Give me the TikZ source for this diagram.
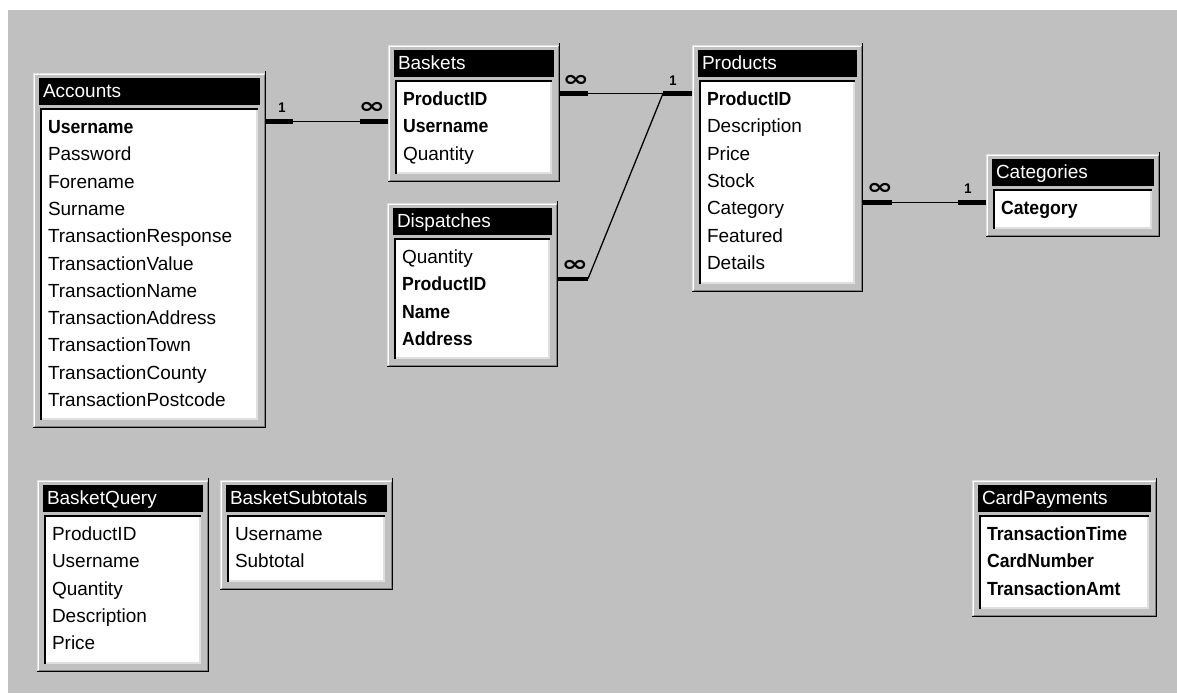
\documentclass[tikz,border=0pt]{standalone}
\usepackage{fontspec}
\setmainfont{Liberation Sans}[BoldFeatures={FakeStretch=0.93}]
\newfontfamily\markfont{DejaVu Sans}
\usepackage{tikz}
\usetikzlibrary{positioning}
\usepackage{amsmath}
\usepackage{xcolor}
\definecolor{winface}{HTML}{C0C0C0}
\definecolor{winlight}{HTML}{DFDFDF}
\definecolor{winshadow}{HTML}{808080}
\newcommand{\many}{\scalebox{1.45}[1]{∞}}
\tikzset{
	every node/.style={inner sep=0pt, outer sep=0pt},
	tableframe/.style={fill=winface, draw=none, anchor=north west},
	tabletitle/.style={font=\fontsize{19}{19}\selectfont, text=white, anchor=base west},
	field/.style={font=\fontsize{19}{19}\selectfont, text height=24pt, text depth=0pt, anchor=base west},
	pkfield/.style={field, font=\fontsize{19}{19}\selectfont\bfseries},
	nextrow/.style={below=3.3pt of #1.south west, anchor=north west},
	link/.style={line width=1.3pt},
	linkend/.style={line width=4.5pt},
	onemark/.style={font=\fontsize{14}{14}\selectfont\bfseries, anchor=base},
	manymark/.style={font=\markfont\fontsize{22}{22}\selectfont\bfseries, anchor=base}
}
% frame, title bar and list box of one table: name, left, top, right, bottom, title
\newcommand{\erdtable}[6]{%
	\node[tableframe, minimum width={(#4-#2)*1pt}, minimum height={(#5-#3)*1pt}] (#1) at (#2,#3) {};
	\draw[winlight, line width=1pt] ({#2+0.5},{#5-1}) -- ({#2+0.5},{#3+0.5}) -- ({#4-1},{#3+0.5});
	\draw[white, line width=1pt] ({#2+1.5},{#5-2}) -- ({#2+1.5},{#3+1.5}) -- ({#4-2},{#3+1.5});
	\draw[black, line width=1.5pt] ({#2},{#5-0.75}) -- ({#4-0.75},{#5-0.75}) -- ({#4-0.75},{#3-2});
	\draw[winshadow, line width=1pt] ({#2+1.5},{#5-2}) -- ({#4-2},{#5-2}) -- ({#4-2},{#3+1.5});
	\fill[black] ({#2+6},{#3+5}) rectangle ({#4-6},{#3+32});
	\node[tabletitle] (#1-title) at ({#2+10},{#3+24.5}) {#6};
	\fill[white] ({#2+7},{#3+35}) rectangle ({#4-8},{#5-8});
	\draw[winlight, line width=2pt] ({#2+7},{#5-9}) -- ({#4-9},{#5-9}) -- ({#4-9},{#3+35});
	\draw[black, line width=2pt] ({#2+8},{#5-8}) -- ({#2+8},{#3+36}) -- ({#4-8},{#3+36});
}

\begin{document}
\begin{tikzpicture}[x=1pt, y=-1pt]
	% Window
	\useasboundingbox (0,0) rectangle (1177,693);
	\fill[white] (0,0) rectangle (1177,693);
	\fill[winface] (8,10) rectangle (1177,693);

	% Accounts
	\erdtable{accounts}{33}{73}{266}{428}{Accounts}
	\node[pkfield] (accUser) at (48,133.5) {Username};
	\node[field, nextrow=accUser] (accPass) {Password};
	\node[field, nextrow=accPass] (accFore) {Forename};
	\node[field, nextrow=accFore] (accSur) {Surname};
	\node[field, nextrow=accSur] (accResp) {TransactionResponse};
	\node[field, nextrow=accResp] (accValue) {TransactionValue};
	\node[field, nextrow=accValue] (accName) {TransactionName};
	\node[field, nextrow=accName] (accAddr) {TransactionAddress};
	\node[field, nextrow=accAddr] (accTown) {TransactionTown};
	\node[field, nextrow=accTown] (accCounty) {TransactionCounty};
	\node[field, nextrow=accCounty] (accPost) {TransactionPostcode};

	% Baskets
	\erdtable{baskets}{388}{45}{560}{182}{Baskets}
	\node[pkfield] (bskProd) at (403,105.5) {ProductID};
	\node[pkfield, nextrow=bskProd] (bskUser) {Username};
	\node[field, nextrow=bskUser] (bskQty) {Quantity};

	% Dispatches
	\erdtable{dispatches}{387}{203}{558}{367}{Dispatches}
	\node[field] (dspQty) at (402,263.5) {Quantity};
	\node[pkfield, nextrow=dspQty] (dspProd) {ProductID};
	\node[pkfield, nextrow=dspProd] (dspName) {Name};
	\node[pkfield, nextrow=dspName] (dspAddr) {Address};

	% Products
	\erdtable{products}{692}{45}{863}{292}{Products}
	\node[pkfield] (prdProd) at (707,105.5) {ProductID};
	\node[field, nextrow=prdProd] (prdDesc) {Description};
	\node[field, nextrow=prdDesc] (prdPrice) {Price};
	\node[field, nextrow=prdPrice] (prdStock) {Stock};
	\node[field, nextrow=prdStock] (prdCat) {Category};
	\node[field, nextrow=prdCat] (prdFeat) {Featured};
	\node[field, nextrow=prdFeat] (prdDetails) {Details};

	% Categories
	\erdtable{categories}{986}{154}{1160}{237}{Categories}
	\node[pkfield] (catCat) at (1001,214.5) {Category};

	% BasketQuery
	\erdtable{basketquery}{37}{480}{209}{672}{BasketQuery}
	\node[field] (bqProd) at (52,540.5) {ProductID};
	\node[field, nextrow=bqProd] (bqUser) {Username};
	\node[field, nextrow=bqUser] (bqQty) {Quantity};
	\node[field, nextrow=bqQty] (bqDesc) {Description};
	\node[field, nextrow=bqDesc] (bqPrice) {Price};

	% BasketSubtotals
	\erdtable{subtotals}{220}{480}{393}{590}{BasketSubtotals}
	\node[field] (stUser) at (235,540.5) {Username};
	\node[field, nextrow=stUser] (stSub) {Subtotal};

	% CardPayments
	\erdtable{cardpayments}{972}{480}{1157}{617}{CardPayments}
	\node[pkfield] (cpTime) at (987,540.5) {TransactionTime};
	\node[pkfield, nextrow=cpTime] (cpNumber) {CardNumber};
	\node[pkfield, nextrow=cpNumber] (cpAmt) {TransactionAmt};

	% Accounts -- Baskets
	\draw[link] (accounts.east |- accUser) -- (baskets.west |- accUser);
	\draw[linkend] (accounts.east |- accUser) -- ++(27,0);
	\draw[linkend] (baskets.west |- accUser) -- ++(-28,0);
	\node[onemark] (accOne) at ([shift={(16,-9)}]accounts.east |- accUser) {1};
	\node[manymark] (bskMany) at ([shift={(-16,-8)}]baskets.west |- accUser) {\many};

	% Baskets -- Products
	\draw[link] (baskets.east |- bskProd) -- (products.west |- bskProd);
	\draw[linkend] (baskets.east |- bskProd) -- ++(28,0);
	\draw[linkend] (products.west |- bskProd) -- ++(-29,0) coordinate (prdKnee);
	\node[manymark] (bskProdMany) at ([shift={(16,-7)}]baskets.east |- bskProd) {\many};
	\node[onemark] (prdOne) at ([shift={(-19,-8)}]products.west |- bskProd) {1};

	% Dispatches -- Products
	\draw[linkend] (dispatches.east |- dspProd) -- ++(30,0) coordinate (dspKnee);
	\draw[link] (dspKnee) -- (prdKnee);
	\node[manymark] (dspMany) at ([shift={(17,-7)}]dispatches.east |- dspProd) {\many};

	% Products -- Categories
	\draw[link] (products.east |- prdCat) -- (categories.west |- prdCat);
	\draw[linkend] (products.east |- prdCat) -- ++(29,0);
	\draw[linkend] (categories.west |- prdCat) -- ++(-28,0);
	\node[manymark] (prdMany) at ([shift={(17,-8)}]products.east |- prdCat) {\many};
	\node[onemark] (catOne) at ([shift={(-18,-9)}]categories.west |- prdCat) {1};
\end{tikzpicture}
\end{document}
